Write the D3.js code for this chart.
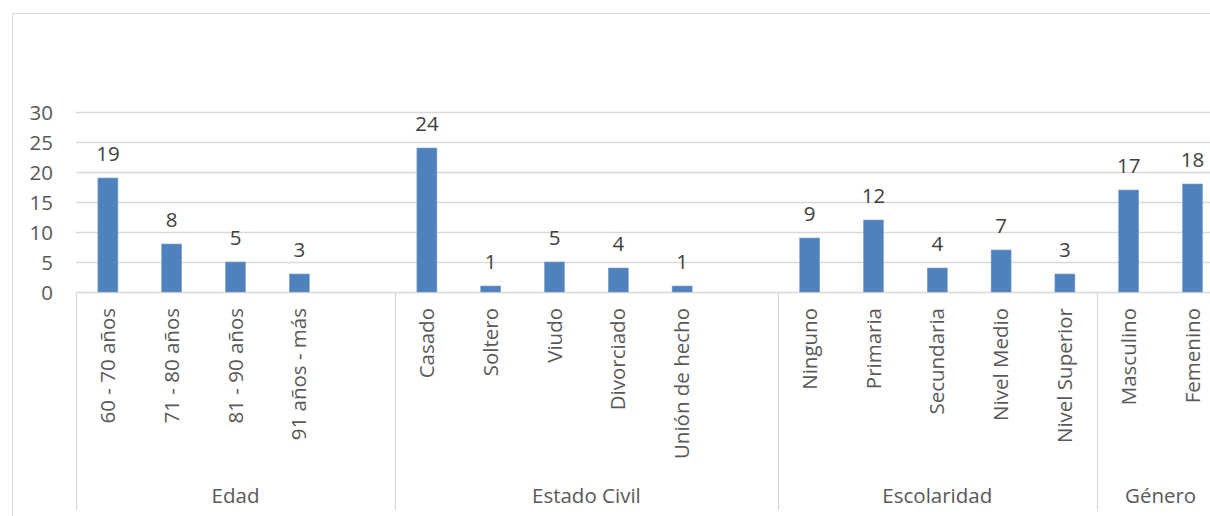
<!DOCTYPE html>
<html>
<head>
<meta charset="utf-8">
<script src="https://cdn.jsdelivr.net/npm/d3@7/dist/d3.min.js"></script>
<style>
  html, body { margin: 0; padding: 0; background: #fff; overflow: hidden; }
  svg { display: block; font-family: "Open Sans", "Noto Sans", sans-serif; }
</style>
</head>
<body>
<svg id="chart" width="1210" height="516"></svg>
<script>
// Group names on the outer category level
const groupNames = ["Edad", "Estado Civil", "Escolaridad", "Género"];

// Inner categories per group (an empty string is a blank slot)
const edadLabels = ["60 - 70 años", "71 - 80 años", "81 - 90 años", "91 años - más", ""];
const civilLabels = ["Casado", "Soltero", "Viudo", "Divorciado", "Unión de hecho", ""];
const escolaridadLabels = ["Ninguno", "Primaria", "Secundaria", "Nivel Medio", "Nivel Superior"];
const generoLabels = ["Masculino", "Femenino"];

// Counts per category (null for blank slots)
const edadValues = [19, 8, 5, 3, null];
const civilValues = [24, 1, 5, 4, 1, null];
const escolaridadValues = [9, 12, 4, 7, 3];
const generoValues = [17, 18];

// Value axis ticks
const yTicks = [0, 5, 10, 15, 20, 25, 30];

const groupLabels = [edadLabels, civilLabels, escolaridadLabels, generoLabels];
const groupValues = [edadValues, civilValues, escolaridadValues, generoValues];

// Flatten into slots along the category axis
const slots = [];
groupLabels.forEach((labels, g) => {
  labels.forEach((lab, i) => {
    slots.push({ id: g + "-" + i, group: g, label: lab, value: groupValues[g][i] });
  });
});

const svg = d3.select("#chart");
const plotLeft = 76, slotW = 63.8;
const plotRight = plotLeft + slots.length * slotW;
const y0 = 292, yTop = 112;

const x = d3.scaleBand().domain(slots.map(d => d.id)).range([plotLeft, plotRight]).padding(0);
const y = d3.scaleLinear().domain([0, 30]).range([y0, yTop]);

const grid = "#d9d9d9";
const textCol = "#595959";

// Chart area border
svg.append("rect")
  .attr("x", 12.5).attr("y", 13.5)
  .attr("width", 1300).attr("height", 600)
  .attr("fill", "none").attr("stroke", grid).attr("stroke-width", 1);

// Horizontal gridlines (the 0 line doubles as the category axis)
svg.append("g").selectAll("line").data(yTicks).join("line")
  .attr("x1", plotLeft).attr("x2", 1230)
  .attr("y1", d => Math.round(y(d)) + 0.5).attr("y2", d => Math.round(y(d)) + 0.5)
  .attr("stroke", grid).attr("stroke-width", 1.3);

// Value axis labels
const yAxis = d3.axisLeft(y).tickValues(yTicks).tickSize(0).tickPadding(0);
const yg = svg.append("g").attr("transform", "translate(53,0)").call(yAxis);
yg.select(".domain").remove();
yg.selectAll("text")
  .attr("fill", textCol)
  .style("font-size", "20.5px")
  .style("font-family", "'Open Sans', sans-serif")
  .attr("dy", "0.35em");

// Group separators on the category axis
const groupStarts = [];
let acc = 0;
groupLabels.forEach(l => { groupStarts.push(acc); acc += l.length; });
const sepX = groupStarts.map(s => plotLeft + s * slotW).concat([plotRight]);
svg.append("g").selectAll("line").data(sepX).join("line")
  .attr("x1", d => Math.round(d) + 0.5).attr("x2", d => Math.round(d) + 0.5)
  .attr("y1", y0).attr("y2", 510)
  .attr("stroke", grid).attr("stroke-width", 1.3);

// Bars
const barW = 20;
const bars = slots.filter(d => d.value != null);
svg.append("g").selectAll("rect").data(bars).join("rect")
  .attr("x", d => x(d.id) + x.bandwidth() / 2 - barW / 2)
  .attr("width", barW)
  .attr("y", d => y(d.value))
  .attr("height", d => y(0) - y(d.value))
  .attr("fill", "#4f81bd")
  .attr("stroke", "#7fa3d0").attr("stroke-width", 0.6);

// Data labels
svg.append("g").selectAll("text").data(bars).join("text")
  .attr("x", d => x(d.id) + x.bandwidth() / 2)
  .attr("y", d => y(d.value) - 17.5)
  .attr("text-anchor", "middle")
  .attr("fill", "#404040")
  .style("font-size", "20.5px")
  .text(d => d.value);

// Rotated category labels
svg.append("g").selectAll("text").data(slots.filter(d => d.label)).join("text")
  .attr("transform", d => `translate(${x(d.id) + x.bandwidth() / 2},308) rotate(-90)`)
  .attr("text-anchor", "end")
  .attr("dy", "0.35em")
  .attr("fill", textCol)
  .style("font-size", "20.5px")
  .text(d => d.label);

// Group labels
svg.append("g").selectAll("text").data(groupNames).join("text")
  .attr("x", (d, i) => (sepX[i] + sepX[i + 1]) / 2)
  .attr("y", 503)
  .attr("text-anchor", "middle")
  .attr("fill", textCol)
  .style("font-size", "20.5px")
  .text(d => d);
</script>
</body>
</html>
